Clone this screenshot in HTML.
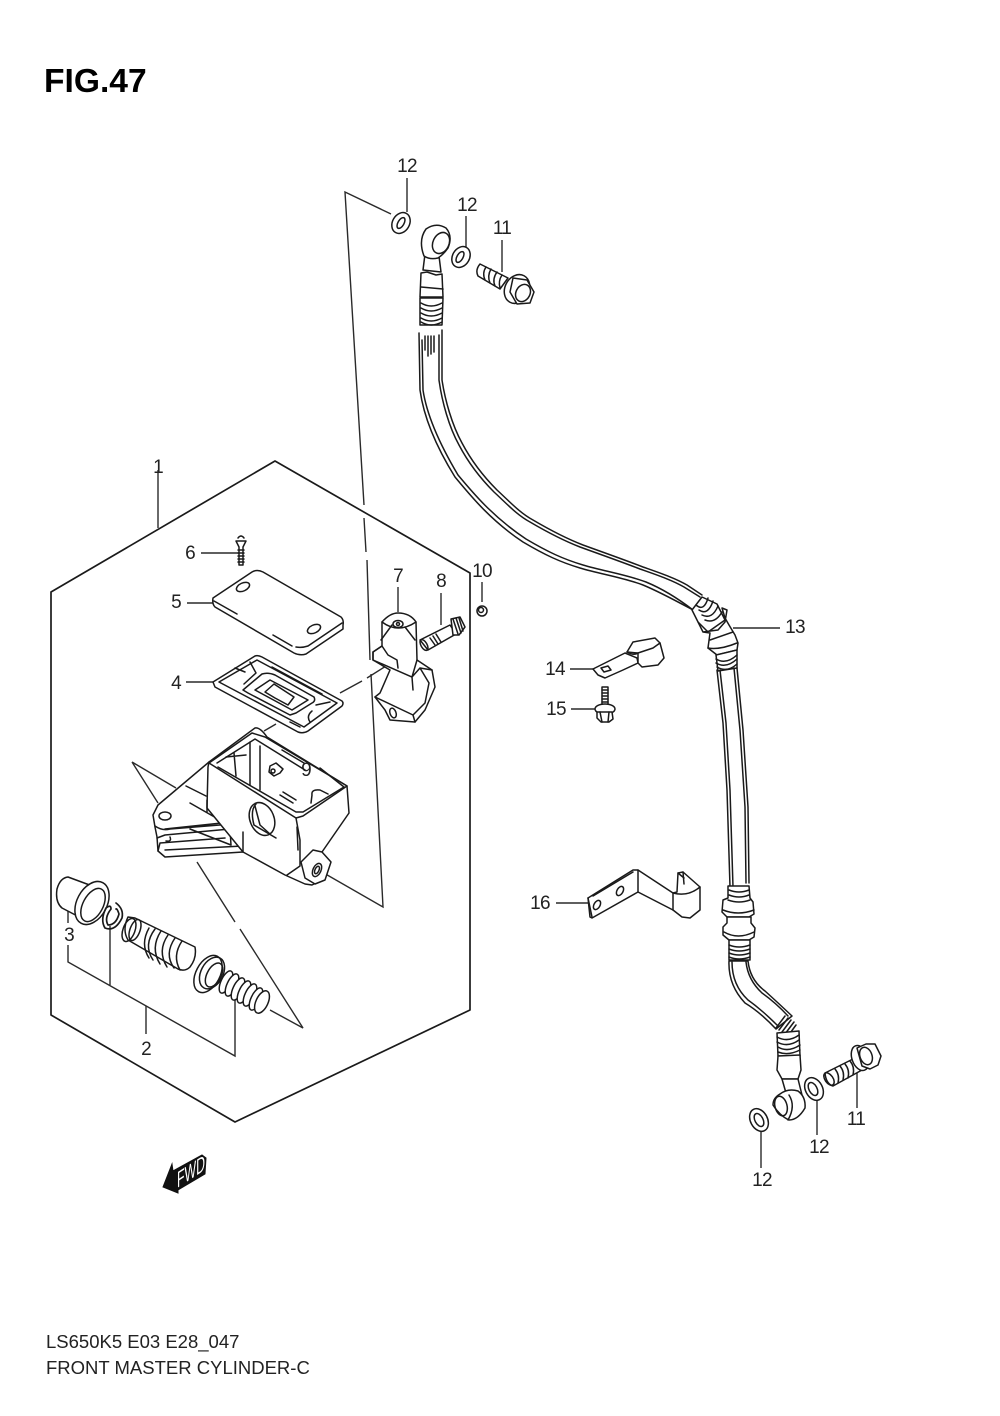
<!DOCTYPE html>
<html><head><meta charset="utf-8"><style>
html,body{margin:0;padding:0;background:#fff}
svg{display:block}
text{font-family:"Liberation Sans",sans-serif;fill:#222}
.l{font-size:19px;text-anchor:middle;letter-spacing:-.7px}
.k{fill:none;stroke:#1a1a1a;stroke-width:1.5;stroke-linejoin:round;stroke-linecap:round}
.w{fill:#fff;stroke:#1a1a1a;stroke-width:1.5;stroke-linejoin:round}
.t{fill:none;stroke:#2a2a2a;stroke-width:1.4}
</style></head><body>
<svg width="1000" height="1416" viewBox="0 0 1000 1416" xmlns="http://www.w3.org/2000/svg">
<text x="44" y="92" style="font-size:33.6px;font-weight:bold;fill:#000">FIG.47</text>
<text x="46" y="1348" style="font-size:18.5px">LS650K5  E03  E28_047</text>
<text x="46" y="1374" style="font-size:18.5px">FRONT MASTER CYLINDER-C</text>

<!-- frame -->
<path class="k" style="stroke-width:1.7" d="M51,592 L275,461 L470,573 L470,1010 L235,1122 L51,1015 Z"/>
<!-- leader/center lines -->
<g class="t">
<path d="M391,214 L345,192 L364,505 M364,518 L366,552 M367,560 L370,660 M371,674 L383,907 L322,872"/>
<path d="M132,762 L158,803 M132,762 L176,788"/>
<path d="M197,862 L235,922 M240,929 L303,1028 L270,1010"/>
<path d="M340,693 L362,681 M367,678 L386,666"/>
<path d="M264,731 L276,724"/>
<path d="M158,470 L158,528"/>
<path d="M68,910 L68,923 M68,945 L68,962 L235,1056 L235,1000"/>
<path d="M110,926 L110,985 M146,1006 L146,1034"/>
<path d="M407,178 L407,212 M466,216 L466,248 M502,240 L502,272"/>
<path d="M201,553 L240,553 M187,603 L213,603 M186,682 L213,682 M398,587 L398,612 M441,593 L441,625 M482,582 L482,602 M286,770 L298,770"/>
<path d="M733,628 L780,628 M570,669 L597,669 M571,709 L597,709 M556,903 L588,903 M857,1072 L857,1108 M817,1100 L817,1135 M761,1132 L761,1168"/>
</g>

<!-- screw 6 -->
<path class="w" d="M236,541 L246,541 L243,547 L243,565 L239,565 L239,547 Z"/>
<path class="k" d="M238,538 Q241,534 244,538 M238,550 H244 M238,553 H244 M238,556 H244 M238,559 H244 M238,562 H244"/>

<!-- lid 5 -->
<path class="w" d="M213,598 L252,572 Q257,569 263,572 L341,617 Q344,620 343,625 L343,629 L306,654 Q300,656 294,653 L215,607 Q212,604 213,598 Z"/>
<path class="k" d="M342,623 L308,646 Q302,648 296,647 M273,635 L292,646 M214,601 L237,614"/>
<ellipse class="k" cx="243" cy="587" rx="7" ry="4" transform="rotate(-25 243 587)"/>
<ellipse class="k" cx="314" cy="629" rx="7" ry="4" transform="rotate(-25 314 629)"/>

<!-- gasket 4 -->
<path class="w" d="M213,682 L255,656 Q258,655 262,657 L342,701 Q344,703 342,706 L308,731 Q303,734 298,732 L215,687 Z"/>
<path class="k" d="M219,682 L257,660 L337,703 L304,727 L219,682"/>
<path class="k" d="M243,690 L262,674 Q268,672 275,675 L314,697 Q316,701 312,703 L296,713 L290,715 L248,693 Z"/>
<path class="k" d="M255,690 L270,680 L308,700 L292,710 Z"/>
<path class="k" d="M265,692 L274,684 L294,697 L288,705 L275,698 Z"/>
<path class="k" d="M235,668 L245,672 M250,662 L256,673 L244,684 M312,711 Q306,716 310,722 M316,705 L330,702 M290,722 L300,727 M272,667 L322,694"/>

<!-- bracket of master cyl -->
<path class="w" d="M209,762 L158,805 L153,815 L155,827 L157,837 L158,851 L165,857 L243,852 L243,800 L210,770 Z"/>
<path class="k" d="M155,826 Q162,831 170,829 L232,824 M165,829 L231,822 M157,838 L165,835 L230,829 L231,845 L190,829 M170,837 Q172,842 166,841 M165,850 L243,846 M158,851 L160,843 L225,838"/>
<ellipse class="k" cx="165" cy="816" rx="6" ry="4"/>
<path class="k" d="M186,786 L206,796 M190,803 L225,823"/>

<!-- body -->
<path class="w" d="M209,762 L255,728 Q260,727 267,737 L347,786 L349,813 L322,852 L327,860 Q330,870 322,880 L312,885 L305,884 L285,875 L243,852 L207,808 L208,767 Z"/>
<path class="w" d="M209,763 L252,733 L265,737 L347,786 L303,816 L296,818 Z"/>
<path class="k" d="M217,763 L255,739 L305,770 M320,768 L344,787 L303,812 L296,812 L218,767"/>
<path class="k" d="M234,753 L236,776 M250,742 L250,785 M260,746 L260,790 M282,750 L304,763 M280,795 L293,803 M283,792 L296,800 M312,795 Q311,789 320,790 L328,794 M312,795 L311,803 M226,757 L246,755"/>
<path class="k" d="M296,818 L300,840 L300,866 L287,875 M297,827 L298,850 M243,832 L243,852 M207,812 L207,800"/>
<ellipse class="w" cx="262" cy="819" rx="12" ry="17" transform="rotate(-22 262 819)"/>
<path class="k" d="M256,804 Q250,810 254,825 L276,838 M255,806 L260,825 L270,834"/>
<path class="w" d="M301,862 L313,850 L322,852 L331,862 L325,880 L315,884 L305,878 Z"/>
<ellipse class="k" cx="317" cy="870" rx="4" ry="7" transform="rotate(25 317 870)"/>
<ellipse class="k" cx="317" cy="870" rx="2" ry="4" transform="rotate(25 317 870)"/>
<!-- item 9 -->
<path class="w" d="M270,766 L276,763 L283,769 L280,773 L274,776 L269,772 Z"/>
<circle class="k" cx="273" cy="771" r="2"/>

<!-- clamp 7 -->
<path class="w" d="M382,622 Q390,613 398,613 Q410,613 416,622 L417,660 L432,670 L435,687 L425,710 L415,722 L390,720 L385,710 L375,697 L380,693 L390,670 L373,660 L373,652 L382,646 Z"/>
<path class="k" d="M382,622 Q398,634 416,622 M373,652 L373,660 L412,677 M373,652 L382,646 L388,655 L397,660 L398,668 M412,677 L420,668 L429,683 L425,703 L413,715 M420,668 L432,670 M412,677 L417,660 M375,697 L413,715 L415,722 M412,677 L413,690 M392,625 L381,640 M405,627 L415,640"/>
<ellipse class="k" cx="398" cy="624" rx="5" ry="3.5"/>
<circle class="k" cx="398" cy="624" r="1.5"/>
<ellipse class="k" cx="393" cy="713" rx="3" ry="5" transform="rotate(-20 393 713)"/>
<!-- screw 8 -->
<path class="w" d="M420,640 L450,625 L456,634 L428,650 Z"/>
<ellipse class="k" cx="424" cy="645" rx="3" ry="6" transform="rotate(-30 424 645)"/>
<path class="k" d="M430,638 L435,645 M433,636 L438,644 M436,634 L441,642"/>
<path class="w" d="M451,619 L460,617 L465,627 L459,635 L453,635 Z"/>
<path class="k" d="M453,619 L458,634 M456,618 L461,633 M459,618 L463,631"/>
<!-- nut 10 -->
<circle class="w" cx="482" cy="611" r="5"/>
<circle class="k" cx="481" cy="610" r="2.5"/>

<!-- cap 3 -->
<path class="w" d="M57,889 Q60,878 68,877 L95,887 L85,920 L62,908 Q55,902 57,889 Z"/>
<ellipse class="w" cx="92" cy="903" rx="15" ry="23" transform="rotate(28 92 903)"/>
<ellipse class="k" cx="93" cy="905" rx="10" ry="18" transform="rotate(28 93 905)"/>
<!-- snap ring -->
<path class="k" style="stroke-width:1.7" d="M116,903 Q124,909 122,918 Q115,932 105,928 Q100,920 106,908 Q111,904 111,909 Q104,918 108,925 Q116,925 119,914 Q117,908 116,909"/>
<!-- piston -->
<path class="w" d="M128,917 L135,918 L195,947 Q197,958 190,967 Q185,972 178,969 L128,940 Q122,930 128,917 Z"/>
<ellipse class="k" cx="129" cy="930" rx="6" ry="12" transform="rotate(20 129 930)"/>
<ellipse class="k" cx="135" cy="930" rx="5" ry="11" transform="rotate(20 135 930)"/>
<path class="k" d="M155,929 Q143,945 153,960 M161,931 Q150,948 160,964 M168,935 Q157,951 167,967 M175,938 Q164,954 174,968 M182,941 Q172,956 180,970 M149,928 Q140,944 149,958"/>
<!-- seal -->
<ellipse class="w" cx="208" cy="974" rx="12" ry="20" transform="rotate(28 208 974)"/>
<ellipse class="k" cx="212" cy="973" rx="11" ry="17" transform="rotate(28 212 973)"/>
<ellipse class="k" cx="214" cy="975" rx="7" ry="13" transform="rotate(28 214 975)"/>
<!-- spring -->
<g class="w">
<ellipse cx="226" cy="982" rx="5" ry="12" transform="rotate(25 226 982)"/>
<ellipse cx="232" cy="985" rx="5" ry="12" transform="rotate(25 232 985)"/>
<ellipse cx="238" cy="989" rx="5" ry="12" transform="rotate(25 238 989)"/>
<ellipse cx="244" cy="992" rx="5" ry="12" transform="rotate(25 244 992)"/>
<ellipse cx="250" cy="995" rx="5" ry="12" transform="rotate(25 250 995)"/>
<ellipse cx="256" cy="999" rx="5" ry="12" transform="rotate(25 256 999)"/>
<ellipse cx="262" cy="1002" rx="6" ry="12" transform="rotate(25 262 1002)"/>
</g>

<!-- top washers -->
<ellipse class="w" cx="401" cy="223" rx="8.5" ry="11" transform="rotate(30 401 223)"/>
<ellipse class="k" cx="401" cy="223" rx="3" ry="6" transform="rotate(30 401 223)"/>
<ellipse class="w" cx="461" cy="257" rx="8.5" ry="11" transform="rotate(30 461 257)"/>
<ellipse class="k" cx="460" cy="257" rx="3" ry="6" transform="rotate(30 460 257)"/>
<!-- top bolt 11 -->
<path class="w" d="M480,264 L508,278 L500,289 L478,276 Q475,270 480,264 Z"/>
<path class="k" d="M486,267 Q482,273 485,280 M491,269 Q487,276 490,283 M497,272 Q492,279 495,286 M502,275 Q498,281 500,288"/>
<ellipse class="w" cx="517" cy="289" rx="12" ry="15" transform="rotate(28 517 289)"/>
<path class="w" d="M513,278 L527,280 L534,292 L530,303 L517,304 L510,292 Z"/>
<ellipse class="k" cx="523" cy="293" rx="7" ry="9" transform="rotate(28 523 293)"/>

<!-- upper banjo -->
<path class="w" d="M425,254 L423,270 L441,272 L439,256 Z"/>
<path class="w" d="M424,256 Q418,240 426,229 Q436,222 446,228 Q453,236 448,248 Q444,254 438,258 Q430,260 424,256 Z"/>
<ellipse class="k" cx="441" cy="243" rx="8" ry="11" transform="rotate(25 441 243)"/>
<path class="w" d="M421,273 L427,272 L436,275 L442,274 L443,297 L420,297 Z"/>
<path class="k" d="M421,287 L443,289"/>
<path class="w" d="M420,298 L443,298 L442,325 L420,325 Z"/>
<path class="k" d="M421,303 Q431,309 442,303 M421,308 Q431,314 442,308 M421,313 Q431,319 442,313 M421,318 Q431,324 442,318 M421,322 Q431,328 442,322"/>

<!-- upper hose -->
<path class="k" d="M419,333 L420,390 C423,412 432,440 455,477 C470,495 490,520 523,542 C545,555 560,562 580,568 C600,574 625,578 643,585 C660,592 680,603 693,610"/>
<path class="k" d="M422,340 L423,390 C426,410 436,438 458,475 C473,493 493,517 526,539 C548,552 563,559 583,565 C603,571 628,575 646,582 C663,589 680,600 693,610"/>
<path class="k" d="M442,330 L442,380 C445,400 452,425 462,443 C472,462 485,478 497,490 C510,502 520,513 533,520 C550,530 565,538 583,545 C605,553 625,560 643,567 C660,573 675,578 687,585 L702,595"/>
<path class="k" d="M439,335 L439,380 C442,402 449,427 459,445 C469,464 482,480 494,492 C507,504 517,515 530,522 C547,532 562,540 580,547 C602,555 622,562 640,569 C657,575 672,580 684,587 L700,597"/>
<path class="k" d="M425,336 V350 M428,336 V356 M431,336 V354 M434,336 V352"/>

<!-- middle ferrule -->
<path class="w" d="M692,610 L702,597 L717,604 L725,620 L708,632 L698,622 Z"/>
<path class="k" d="M696,605 Q704,612 708,598 M699,610 Q708,616 713,601 M702,615 Q712,620 718,606 M705,620 Q715,624 722,612"/>
<path class="w" d="M698,622 L703,632 L718,630 L725,622 L727,610 L722,608 L725,618 L729,625 L735,635 L738,643 L737,650 L717,655 L708,648 L710,633 L703,632"/>
<path class="k" d="M710,640 L733,632 M708,648 Q720,650 737,643"/>
<path class="w" d="M716,655 L737,650 L737,668 L718,671 Z"/>
<path class="k" d="M716,659 Q726,665 737,655 M716,663 Q726,669 737,659 M717,667 Q727,673 737,664"/>

<!-- lower hose -->
<path class="k" d="M717,670 L723,723 L727,790 L730,887"/>
<path class="k" d="M720,670 L726,723 L730,790 L733,887"/>
<path class="k" d="M737,668 L743,730 L748,807 L749,883"/>
<path class="k" d="M734,668 L740,730 L745,807 L746,883"/>

<!-- lower ferrule -->
<path class="w" d="M728,886 L749,886 L750,898 L753,902 L754,914 L749,917 L727,917 L722,912 L723,900 L728,898 Z"/>
<path class="k" d="M729,890 Q739,894 749,890 M729,895 Q739,899 749,895 M728,900 Q739,904 750,900 M723,910 Q738,916 754,910"/>
<path class="w" d="M727,917 L751,917 L751,923 L755,928 L754,937 L749,940 L729,940 L723,935 L723,927 L727,923 Z"/>
<path class="k" d="M724,932 Q738,940 754,932"/>
<path class="w" d="M729,940 L750,940 L750,960 L729,960 Z"/>
<path class="k" d="M729,945 Q739,949 750,945 M729,949 Q739,953 750,949 M729,953 Q739,957 750,953 M729,957 Q739,961 750,957"/>
<!-- bent hose -->
<path class="w" d="M729,961 Q728,985 745,1003 Q760,1012 776,1029 L792,1016 Q775,1000 765,991 Q750,980 748,961 Z"/>
<path class="k" d="M732,962 Q732,985 748,1000 Q762,1010 778,1026 M746,962 Q748,980 762,993 Q776,1003 788,1016"/>
<path class="k" d="M776,1028 L785,1016 M779,1030 L788,1018 M782,1032 L791,1020 M785,1034 L794,1022 M788,1036 L796,1025"/>
<path class="w" d="M777,1033 L799,1031 L800,1056 L778,1056 Z"/>
<path class="k" d="M777,1037 Q788,1043 799,1035 M777,1042 Q788,1048 799,1040 M778,1047 Q788,1053 800,1045 M778,1052 Q788,1056 800,1050"/>
<path class="w" d="M778,1056 L800,1055 L801,1070 L798,1079 L782,1079 L777,1070 Z"/>
<path class="w" d="M782,1079 L798,1079 L801,1091 L804,1103 L786,1093 Z"/>
<!-- lower banjo -->
<path class="w" d="M780,1094 Q788,1088 798,1091 Q806,1097 805,1108 Q798,1120 789,1120 Q780,1116 773,1105 Q773,1098 780,1094 Z"/>
<ellipse class="k" cx="781" cy="1106" rx="6" ry="10" transform="rotate(-15 781 1106)"/>
<path class="k" d="M789,1095 Q796,1106 788,1120"/>
<!-- lower washers -->
<ellipse class="w" cx="814" cy="1089" rx="8.5" ry="12" transform="rotate(-28 814 1089)"/>
<ellipse class="k" cx="813" cy="1089" rx="4" ry="7" transform="rotate(-28 813 1089)"/>
<ellipse class="w" cx="759" cy="1120" rx="8.5" ry="12" transform="rotate(-28 759 1120)"/>
<ellipse class="k" cx="759" cy="1120" rx="4" ry="7" transform="rotate(-28 759 1120)"/>
<!-- lower bolt 11 -->
<path class="w" d="M825,1073 L855,1058 L862,1070 L833,1086 Q826,1084 825,1073 Z"/>
<ellipse class="k" cx="829" cy="1079" rx="4" ry="7" transform="rotate(-35 829 1079)"/>
<path class="k" d="M835,1069 Q840,1075 838,1083 M840,1066 Q845,1072 843,1080 M845,1064 Q850,1070 848,1078 M850,1061 Q855,1067 853,1075"/>
<ellipse class="w" cx="860" cy="1058" rx="8" ry="13" transform="rotate(-20 860 1058)"/>
<path class="w" d="M857,1048 L866,1044 L875,1044 L881,1056 L878,1065 L870,1069 L862,1066 Z"/>
<ellipse class="k" cx="866" cy="1056" rx="6" ry="9" transform="rotate(-20 866 1056)"/>

<!-- clamp 14 -->
<path class="w" d="M593,669 L625,653 L637,658 L638,663 L623,670 L605,678 L598,675 Z"/>
<path class="k" d="M601,668 L608,666 L611,670 L604,672 Z"/>
<path class="w" d="M627,652 L633,642 L655,638 L660,643 L664,658 L658,665 L642,667 L638,663 L638,653 Z"/>
<path class="k" d="M627,652 Q634,656 638,653 L653,648 L660,643"/>

<!-- bolt 15 -->
<path class="w" d="M602,687 L608,687 L608,708 L602,708 Z"/>
<path class="k" d="M602,690 H608 M602,693 H608 M602,696 H608 M602,699 H608 M602,702 H608 M602,705 H608"/>
<ellipse class="w" cx="605" cy="709" rx="10" ry="5"/>
<path class="w" d="M597,712 L612,712 L613,719 L609,722 L601,722 L597,718 Z"/>
<path class="k" d="M600,712 L602,722 M609,712 L608,722"/>

<!-- bracket 16 -->
<path class="w" d="M588,898 L633,870 L638,870 L673,893 L677,892 L678,873 L683,872 L700,887 L700,910 L690,918 L682,917 L673,910 L638,892 L592,918 L590,917 Z"/>
<path class="k" d="M588,898 L592,917 M638,870 L638,892 M593,896 L633,872 M673,893 Q688,897 700,887 M673,893 L673,910 M683,872 L684,884 M678,873 L684,878"/>
<ellipse class="k" cx="597" cy="905" rx="3" ry="5" transform="rotate(30 597 905)"/>
<ellipse class="k" cx="620" cy="891" rx="3" ry="5" transform="rotate(30 620 891)"/>

<!-- FWD arrow -->
<path d="M163,1187 L172,1164 L173,1171 L202,1155 L206,1158 L205,1174 L178,1190 L178,1193 Z" fill="#111" stroke="#111" stroke-width="1"/>
<text transform="matrix(0.77,-0.5,0,1.4,177,1188)" style="font-size:16px;fill:#fff">FWD</text>

<!-- labels -->
<g>
<text class="l" x="407" y="172">12</text>
<text class="l" x="467" y="211">12</text>
<text class="l" x="502" y="234">11</text>
<text class="l" x="158" y="473">1</text>
<text class="l" x="190" y="559">6</text>
<text class="l" x="176" y="608">5</text>
<text class="l" x="176" y="689">4</text>
<text class="l" x="398" y="582">7</text>
<text class="l" x="441" y="587">8</text>
<text class="l" x="482" y="577">10</text>
<text class="l" x="306" y="776">9</text>
<text class="l" x="69" y="941">3</text>
<text class="l" x="146" y="1055">2</text>
<text class="l" x="795" y="633">13</text>
<text class="l" x="555" y="675">14</text>
<text class="l" x="556" y="715">15</text>
<text class="l" x="540" y="909">16</text>
<text class="l" x="856" y="1125">11</text>
<text class="l" x="819" y="1153">12</text>
<text class="l" x="762" y="1186">12</text>
</g>
</svg>
</body></html>
